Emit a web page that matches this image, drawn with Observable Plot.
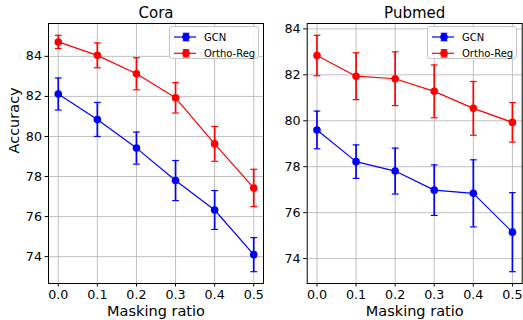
<!DOCTYPE html>
<html><head><meta charset="utf-8">
<script src="https://cdn.jsdelivr.net/npm/d3@7"></script>
<script src="https://cdn.jsdelivr.net/npm/@observablehq/plot@0.6"></script>
<style>
body{margin:0;background:#fff;}
#row{display:flex;width:523px;height:320px;}
svg{font-family:"DejaVu Sans";}
</style></head><body><div id="row"></div>
<script>
const ratios = [0.0, 0.1, 0.2, 0.3, 0.4, 0.5];
const coraGCN = [82.12, 80.85, 79.42, 77.80, 76.33, 74.10];
const coraGCNErr = [0.80, 0.85, 0.80, 1.00, 0.97, 0.85];
const coraOrtho = [84.72, 84.05, 83.13, 81.93, 79.63, 77.43];
const coraOrthoErr = [0.33, 0.62, 0.80, 0.76, 0.87, 0.93];
const pubGCN = [79.60, 78.22, 77.81, 76.98, 76.84, 75.15];
const pubGCNErr = [0.82, 0.73, 1.00, 1.10, 1.46, 1.72];
const pubOrtho = [82.84, 81.94, 81.83, 81.28, 80.54, 79.93];
const pubOrthoErr = [0.88, 1.02, 1.17, 1.15, 1.17, 0.86];
const seriesNames = ["GCN", "Ortho-Reg"];
const seriesColors = ["#0000ff", "#ff0000"];
const xTicks = [0, 0.1, 0.2, 0.3, 0.4, 0.5];
const yTicks = [74, 76, 78, 80, 82, 84];

function panel(title, series, o) {
  const rows = [];
  series.forEach(([name, vals, errs]) => {
    vals.forEach((v, i) => rows.push({series: name, x: ratios[i], y: v, lo: v - errs[i], hi: v + errs[i]}));
  });
  const lo = d3.min(rows, d => d.lo), hi = d3.max(rows, d => d.hi);
  const pad = (hi - lo) * 0.05;
  const capHalf = 0.0086;
  const chart = Plot.plot({
    width: o.width, height: 320,
    marginLeft: o.marginLeft, marginRight: o.marginRight, marginTop: 23, marginBottom: 37,
    style: {fontFamily: "DejaVu Sans", fontSize: "12.7px", color: "black", background: "white", overflow: "visible"},
    x: {domain: [-0.025, 0.525]},
    y: {domain: [lo - pad, hi + pad]},
    color: {domain: seriesNames, range: seriesColors},
    marks: [
      Plot.gridX(xTicks, {stroke: "#b0b0b0", strokeOpacity: 1, strokeWidth: 0.8}),
      Plot.gridY(yTicks, {stroke: "#b0b0b0", strokeOpacity: 1, strokeWidth: 0.8}),
      Plot.line(rows, {x: "x", y: "y", z: "series", stroke: "series", strokeWidth: 1.2}),
      Plot.ruleX(rows, {x: "x", y1: "lo", y2: "hi", stroke: "series", strokeWidth: 1.7}),
      Plot.link(rows, {x1: d => d.x - capHalf, x2: d => d.x + capHalf, y1: "lo", y2: "lo", stroke: "series", strokeWidth: 1.2}),
      Plot.link(rows, {x1: d => d.x - capHalf, x2: d => d.x + capHalf, y1: "hi", y2: "hi", stroke: "series", strokeWidth: 1.2}),
      Plot.dot(rows, {x: "x", y: "y", fill: "series", r: 3.8}),
      Plot.frame({stroke: "black", strokeWidth: 1}),
      Plot.axisX(xTicks, {tickFormat: d3.format(".1f"), fontSize: 12.7, tickSize: 3.5, tickPadding: 3, label: null}),
      Plot.axisY(yTicks, {fontSize: 12.7, tickSize: 3.5, tickPadding: 3, label: null}),
      Plot.text([title], {frameAnchor: "top", dy: -10.5, fontSize: 15, lineAnchor: "middle"}),
      Plot.text(["Masking ratio"], {frameAnchor: "bottom", dy: 28.3, fontSize: 14.5, lineAnchor: "middle"}),
      o.yLabel ? Plot.text([o.yLabel], {frameAnchor: "left", dx: -34.5, rotate: -90, fontSize: 14.5, lineAnchor: "middle"}) : null
    ]
  });
  // legend
  const svg = d3.select(chart);
  const right = o.width - o.marginRight;
  const bx = Math.round(right - 5.5 - 89) + 0.5, by = 26.5;
  const g = svg.append("g").attr("text-anchor", "start");
  g.append("rect").attr("x", bx).attr("y", by).attr("width", 89).attr("height", 32)
    .attr("rx", 2.5).attr("fill", "white").attr("fill-opacity", 0.85).attr("stroke", "#c4c4c4").attr("stroke-width", 1);
  seriesNames.forEach((name, i) => {
    const cy = by + 10.5 + i * 16.3;
    const c = seriesColors[i];
    const mx = bx + 16.5;
    g.append("line").attr("x1", bx + 4.5).attr("x2", bx + 26.5).attr("y1", cy).attr("y2", cy).attr("stroke", c).attr("stroke-width", 1.2);
    g.append("line").attr("x1", mx).attr("x2", mx).attr("y1", cy - 3.7).attr("y2", cy + 3.7).attr("stroke", c).attr("stroke-width", 1.7);
    [cy - 3.7, cy + 3.7].forEach(yy => g.append("line").attr("x1", mx - 3.3).attr("x2", mx + 3.3).attr("y1", yy).attr("y2", yy).attr("stroke", c).attr("stroke-width", 1.2));
    g.append("circle").attr("cx", mx).attr("cy", cy).attr("r", 3.8).attr("fill", c);
    g.append("text").attr("x", bx + 34.5).attr("y", cy).attr("dy", "0.35em").attr("text-anchor", "start")
      .attr("font-size", 10).attr("fill", "black").text(name);
  });
  return chart;
}

const row = document.getElementById("row");
row.append(panel("Cora", [["GCN", coraGCN, coraGCNErr], ["Ortho-Reg", coraOrtho, coraOrthoErr]],
  {width: 265, marginLeft: 48, marginRight: 2, yLabel: "Accuracy"}));
row.append(panel("Pubmed", [["GCN", pubGCN, pubGCNErr], ["Ortho-Reg", pubOrtho, pubOrthoErr]],
  {width: 258, marginLeft: 41.7, marginRight: 1.3, yLabel: null}));
</script></body></html>
